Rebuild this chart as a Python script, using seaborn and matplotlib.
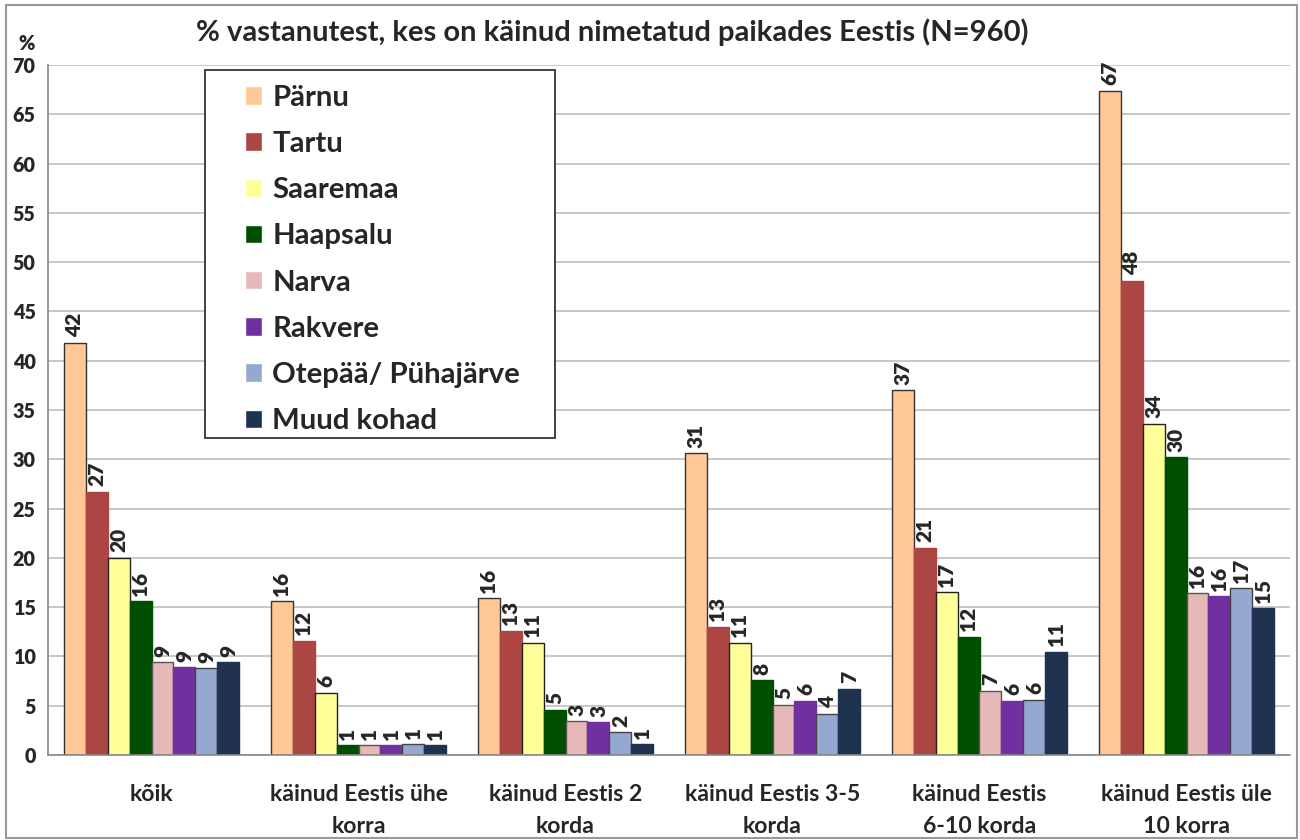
import numpy as np
import pandas as pd
import matplotlib
matplotlib.use("Agg")
import matplotlib.pyplot as plt
import seaborn as sns
from matplotlib.patches import Rectangle
from matplotlib import font_manager as fm

groups = ["kõik", "käinud Eestis ühe\nkorra", "käinud Eestis 2\nkorda",
          "käinud Eestis 3-5\nkorda", "käinud Eestis\n6-10 korda", "käinud Eestis üle\n10 korra"]
places = ["Pärnu", "Tartu", "Saaremaa", "Haapsalu", "Narva", "Rakvere",
          "Otepää/ Pühajärve", "Muud kohad"]

parnu = [41.8, 15.6, 15.9, 30.6, 37.0, 67.4]
tartu = [26.7, 11.6, 12.6, 13.0, 21.0, 48.1]
saaremaa = [20.0, 6.3, 11.4, 11.4, 16.5, 33.6]
haapsalu = [15.6, 1.0, 4.6, 7.6, 12.0, 30.2]
narva = [9.4, 1.0, 3.4, 5.1, 6.5, 16.4]
rakvere = [8.9, 1.0, 3.3, 5.5, 5.5, 16.1]
otepaa = [8.8, 1.1, 2.3, 4.2, 5.6, 16.9]
muud = [9.4, 1.0, 1.1, 6.7, 10.5, 14.9]

series = [parnu, tartu, saaremaa, haapsalu, narva, rakvere, otepaa, muud]
colors = ["#FFC896", "#AB4643", "#FFFF99", "#004F00", "#E6B8B7", "#7030A0", "#95A8D0", "#1F3350"]
edges = ["#333333", "#AB4643", "#222222", "#004F00", "#555555", "#7030A0", "#444444", "#1F3350"]

rows = []
for p, vals in zip(places, series):
    for g, v in zip(groups, vals):
        rows.append({"grupp": g, "koht": p, "väärtus": v})
df = pd.DataFrame(rows)


def bold_font():
    # first family that really has a bold face file
    for name in ["Lato", "Open Sans", "Noto Sans", "Roboto", "Liberation Sans"]:
        try:
            path = fm.findfont(fm.FontProperties(family=name, weight="bold"),
                               fallback_to_default=False)
        except Exception:
            continue
        if "bold" in path.lower():
            return name
    return "DejaVu Sans"


sns.set_style("white")
FONT = bold_font()
plt.rcParams["font.family"] = [FONT, "DejaVu Sans"]
plt.rcParams["font.weight"] = "bold"
SMALL_W = "heavy"

fig = plt.figure(figsize=(13, 8.4), dpi=100)
renderer = fig.canvas.get_renderer()


def fit(text, width_px, weight="bold"):
    t = fig.text(0, 0, text, fontsize=10, fontweight=weight)
    w = t.get_window_extent(renderer).width
    t.remove()
    return 10 * width_px / w


title_fs = fit("% vastanutest, kes on käinud nimetatud paikades Eestis (N=960)", 835)
leg_fs = fit("Otepää/ Pühajärve", 248)
xl_fs = fit("käinud Eestis ühe", 179)
bl_fs = fit("67", 24, SMALL_W)
yt_fs = bl_fs * 0.95
pt = 100 / 72

ax = fig.add_axes([48 / 1300, 85 / 840, 1242 / 1300, 690 / 840])

sns.barplot(data=df, x="grupp", y="väärtus", hue="koht", order=groups, hue_order=places,
            palette=colors, width=0.85, saturation=1, ax=ax, legend=True)

for cont, ec, vals in zip(ax.containers, edges, series):
    for bar in cont:
        bar.set_edgecolor(ec)
        bar.set_linewidth(1.0)
    labs = [str(int(np.floor(v + 0.5))) for v in vals]
    ax.bar_label(cont, labels=labs, rotation=90, padding=4, fontsize=bl_fs, fontweight=SMALL_W)

ax.set_ylim(0, 70)
ax.set_xlim(-0.5, 5.5)
ax.set_yticks(range(0, 71, 5))
ax.set_yticklabels([str(v) for v in range(0, 71, 5)], fontsize=yt_fs, fontweight=SMALL_W)
ax.yaxis.grid(True, color="#BFBFBF", linewidth=1.2)
ax.set_axisbelow(True)
ax.set_xlabel("")
ax.set_ylabel("")
for s in ["top", "right"]:
    ax.spines[s].set_visible(False)
for s in ["left", "bottom"]:
    ax.spines[s].set_color("#888888")
    ax.spines[s].set_linewidth(1.2)

ax.set_xticks(range(len(groups)))
ax.set_xticklabels(groups, fontsize=xl_fs, fontweight="bold", linespacing=1.64)
ax.set_xticks(np.arange(-0.5, 6, 1), minor=True)
ax.tick_params(axis="x", which="major", length=0, pad=21)
ax.tick_params(axis="x", which="minor", length=8, color="#888888", width=1.2)
ax.tick_params(axis="y", length=6, color="#888888", width=1.2, pad=3)

# legend frame drawn separately (Excel-style wide left padding)
ax.add_patch(Rectangle((157 / 1242, 317 / 690), 350 / 1242, 368 / 690, transform=ax.transAxes,
                       fill=True, facecolor="white", edgecolor="#222222", linewidth=1.2, zorder=5))
row_pt = 45.7 / pt
handles, labels = ax.get_legend_handles_labels()
leg = ax.legend(handles, labels, loc="upper left",
                bbox_to_anchor=(197 / 1242, (652 + 0.62 * leg_fs * pt) / 690),
                fontsize=leg_fs, frameon=False,
                handlelength=12.5 / leg_fs, handleheight=12.5 / leg_fs,
                handletextpad=7.2 / leg_fs,
                labelspacing=(row_pt - 1.2 * leg_fs + 9.7 / pt) / leg_fs,
                borderpad=0, borderaxespad=0)
leg.set_zorder(6)
for t in leg.get_texts():
    t.set_fontweight("bold")

fig.text(612 / 1300, 1 - 32 / 840, "% vastanutest, kes on käinud nimetatud paikades Eestis (N=960)",
         ha="center", va="center", fontsize=title_fs, fontweight="bold")
fig.text(27 / 1300, 1 - 43 / 840, "%", ha="center", va="center", fontsize=yt_fs, fontweight=SMALL_W)

fig.patches.append(Rectangle((6 / 1300, 2 / 840), 1291 / 1300, 833 / 840,
                             transform=fig.transFigure, fill=False,
                             edgecolor="#999999", linewidth=1.5))

fig.savefig("out.png", dpi=100)
